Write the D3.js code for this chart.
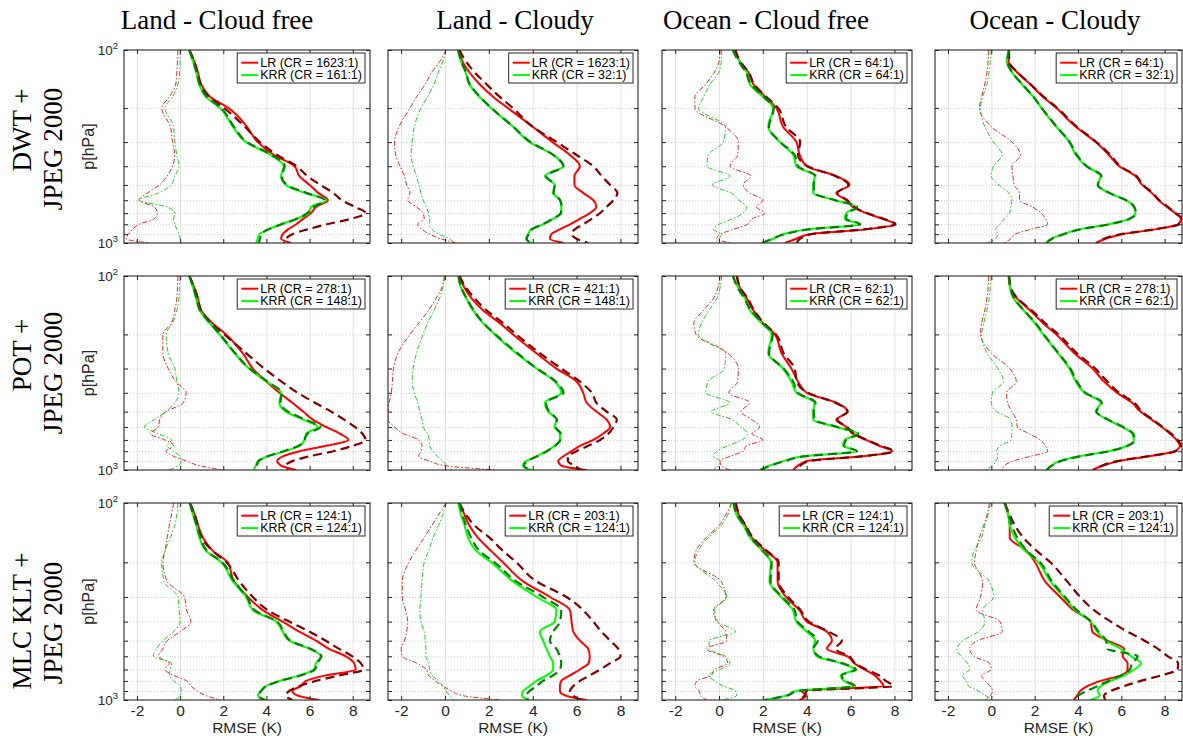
<!DOCTYPE html>
<html lang="en">
<head>
<meta charset="UTF-8">
<title>RMSE profiles - LR vs KRR</title>
<script src="https://d3js.org/d3.v7.min.js"></script>
<style>
  body { margin: 0; background: #fff; }
  .tick text { fill: #262626; font-family: "Liberation Sans", Arial, sans-serif; }
</style>
</head>
<body>
<div id="chart"></div>
<script>
// pressure levels (hPa) shared by every profile
const levels = [100, 115, 130, 150, 175, 200, 250, 300, 350, 400, 450, 500, 550, 600, 650, 700, 750, 800, 850, 900, 950, 1000];
const xTicks = [-2, 0, 2, 4, 6, 8];
const yTicks = [100, 200, 300, 400, 500, 600, 700, 800, 900, 1000];
const yGrid = [200, 300, 400, 500, 600, 700, 800, 900];

const colTitles = ["Land - Cloud free", "Land - Cloudy", "Ocean - Cloud free", "Ocean - Cloudy"];
const rowLabels = [["DWT +", "JPEG 2000"], ["POT +", "JPEG 2000"], ["MLC KLT +", "JPEG 2000"]];
const lrCR = [["1623", "1623", "64", "64"], ["278", "421", "62", "278"], ["124", "203", "124", "203"]];
const krrCR = [["161", "32", "64", "32"], ["148", "148", "62", "62"], ["124", "124", "124", "124"]];

// row 1: DWT + JPEG 2000
const lr11 = [0.43, 0.66, 0.82, 0.97, 1.4, 2.25, 3.1, 3.6, 4.35, 5.3, 5.53, 6.0, 6.4, 6.85, 6.3, 6.07, 5.7, 5.38, 5.0, 4.76, 4.68, 5.15];
const krr11 = [0.43, 0.6, 0.74, 0.88, 1.2, 1.85, 2.45, 3.05, 4.2, 4.8, 4.68, 4.9, 5.77, 6.77, 6.07, 5.97, 5.38, 4.68, 4.07, 3.68, 3.6, 3.52];
const lrRef11 = [0.43, 0.66, 0.8, 0.95, 1.35, 2.05, 3.0, 3.7, 4.5, 5.4, 5.9, 6.5, 7.1, 7.5, 8.1, 8.6, 7.9, 6.8, 5.9, 5.2, 4.9, 4.8];
const krrRef11 = [0.43, 0.62, 0.76, 0.9, 1.25, 1.9, 2.5, 3.1, 4.25, 4.85, 4.7, 4.95, 5.85, 6.7, 6.2, 5.9, 5.4, 4.7, 4.1, 3.75, 3.7, 3.65];
const lrBias11 = [-0.1, -0.12, -0.15, -0.2, -0.5, -0.85, -0.45, -0.35, -0.25, -0.35, -0.6, -0.95, -1.5, -1.9, -1.2, -1.05, -1.2, -1.9, -2.2, -2.4, -2.5, -1.4];
const krrBias11 = [0.0, 0.0, -0.02, -0.1, -0.35, -0.7, -0.3, -0.25, -0.15, -0.05, -0.25, -0.4, -1.0, -1.9, -0.6, -0.25, -0.3, -0.25, -0.15, -0.05, 0.0, 0.05];

const lr12 = [0.66, 0.8, 1.1, 1.57, 2.2, 2.87, 4.0, 4.9, 5.7, 6.15, 5.9, 5.9, 6.3, 6.76, 6.9, 6.6, 6.15, 5.7, 5.24, 4.85, 4.78, 5.4];
const krr12 = [0.58, 0.73, 0.93, 1.1, 1.57, 2.1, 3.1, 3.86, 4.93, 5.39, 4.55, 5.0, 4.93, 5.24, 5.3, 5.3, 4.93, 4.47, 3.94, 3.79, 3.7, 3.94];
const lrRef12 = [0.66, 0.96, 1.34, 1.88, 2.5, 3.1, 4.0, 5.1, 6.0, 6.76, 7.14, 7.53, 7.86, 7.68, 7.37, 7.07, 6.69, 6.3, 5.92, 5.77, 6.0, 6.53];
const krrRef12 = [0.6, 0.75, 0.95, 1.12, 1.6, 2.12, 3.12, 3.9, 4.95, 5.4, 4.6, 5.0, 4.95, 5.25, 5.32, 5.28, 4.9, 4.45, 3.95, 3.82, 3.72, 3.9];
const lrBias12 = [0.05, -0.25, -0.6, -0.9, -1.3, -1.6, -2.1, -2.3, -2.25, -2.05, -1.85, -1.75, -1.6, -1.7, -1.3, -1.0, -0.95, -1.25, -1.05, -0.7, -0.2, 0.5];
const krrBias12 = [0.05, -0.1, -0.3, -0.5, -0.8, -1.1, -1.4, -1.5, -1.55, -1.45, -1.3, -1.2, -1.1, -1.0, -0.85, -0.75, -0.7, -0.72, -0.6, -0.3, 0.2, 0.4];

const lr13 = [0.73, 0.95, 1.33, 1.56, 2.1, 2.62, 2.92, 3.53, 3.68, 4.0, 5.35, 5.95, 5.35, 5.8, 6.1, 6.7, 7.47, 8.0, 6.7, 4.14, 3.53, 3.0];
const krr13 = [0.65, 0.95, 1.26, 1.4, 2.0, 2.47, 2.24, 2.77, 3.38, 3.53, 4.36, 4.29, 4.29, 5.27, 6.26, 5.8, 5.73, 6.4, 4.0, 2.92, 2.47, 1.94];
const lrRef13 = [0.75, 0.97, 1.35, 1.6, 2.15, 2.7, 3.05, 3.7, 3.6, 4.05, 5.3, 5.9, 5.4, 5.85, 6.15, 6.75, 7.5, 8.05, 6.6, 4.2, 3.7, 3.55];
const krrRef13 = [0.63, 0.9, 1.22, 1.45, 2.05, 2.5, 2.28, 2.8, 3.45, 3.6, 4.4, 4.32, 4.35, 5.3, 6.3, 5.85, 5.8, 6.45, 4.1, 3.0, 2.45, 1.95];
const lrBias13 = [0.05, 0.0, -0.2, -0.6, -1.1, -1.1, 0.3, 0.88, 0.85, 0.5, 1.45, 1.1, 1.4, 2.0, 1.7, 2.1, 1.5, 1.3, 0.65, 0.05, -0.1, 0.55];
const krrBias13 = [0.12, 0.1, 0.0, -0.4, -0.7, -0.94, 0.3, 0.2, -0.5, -0.55, 0.5, -0.3, 0.55, 0.9, 1.25, 1.1, 0.6, 0.0, -0.25, 0.1, 0.0, -0.2];

const lr14 = [0.8, 0.8, 1.17, 1.78, 2.39, 3.0, 3.9, 4.82, 5.43, 5.9, 6.65, 6.96, 7.4, 7.72, 8.1, 8.48, 8.75, 8.63, 7.56, 6.04, 5.28, 4.82];
const krr14 = [0.8, 0.72, 0.94, 1.4, 1.93, 2.31, 3.0, 3.6, 3.9, 4.37, 5.05, 4.9, 5.43, 6.2, 6.58, 6.65, 6.35, 5.43, 4.06, 3.3, 2.77, 2.54];
const lrRef14 = [0.82, 0.82, 1.2, 1.8, 2.42, 3.05, 3.95, 4.85, 5.5, 5.95, 6.7, 7.0, 7.45, 7.75, 8.15, 8.5, 8.8, 8.65, 7.5, 6.0, 5.2, 4.9];
const krrRef14 = [0.82, 0.74, 0.96, 1.42, 1.95, 2.33, 3.02, 3.62, 3.95, 4.4, 5.08, 4.92, 5.45, 6.22, 6.6, 6.67, 6.37, 5.45, 4.1, 3.35, 2.8, 2.55];
const lrBias14 = [-0.12, -0.15, -0.2, -0.3, -0.45, -0.55, 0.0, 0.95, 1.35, 0.95, 1.0, 1.05, 1.3, 1.3, 1.9, 2.3, 2.5, 2.6, 1.8, 1.1, 0.9, 0.6];
const krrBias14 = [0.0, -0.05, -0.1, -0.2, -0.4, -0.5, -0.3, 0.1, 0.5, 0.1, 0.0, 0.35, 0.8, 0.95, 0.9, 0.85, 0.6, 0.4, 0.2, 0.3, 0.2, -0.2];

// row 2: POT + JPEG 2000
const lr21 = [0.43, 0.66, 0.82, 0.97, 1.5, 2.13, 2.9, 3.37, 4.0, 4.6, 5.2, 5.7, 6.15, 6.77, 7.4, 7.8, 6.77, 5.53, 4.76, 4.5, 4.68, 5.38];
const krr21 = [0.43, 0.6, 0.74, 0.9, 1.36, 1.82, 2.52, 3.2, 4.0, 4.68, 4.6, 4.9, 5.7, 6.38, 5.84, 5.77, 5.53, 4.84, 4.07, 3.6, 3.5, 3.4];
const lrRef21 = [0.43, 0.66, 0.82, 0.97, 1.45, 2.05, 3.06, 3.9, 4.7, 5.45, 6.25, 7.0, 7.6, 8.1, 8.45, 8.6, 8.0, 7.1, 6.0, 5.2, 4.9, 5.0];
const krrRef21 = [0.43, 0.62, 0.76, 0.92, 1.4, 1.85, 2.55, 3.22, 4.05, 4.7, 4.65, 5.0, 5.8, 6.5, 5.9, 5.75, 5.5, 4.8, 4.05, 3.65, 3.55, 3.5];
const lrBias21 = [-0.1, -0.12, -0.15, -0.25, -0.4, -0.8, -0.8, -0.55, -0.2, 0.28, 0.15, -0.65, -0.95, -1.0, -1.4, -0.7, -0.3, -0.65, -0.3, 0.3, 0.9, 2.0];
const krrBias21 = [0.0, -0.02, -0.05, -0.15, -0.35, -0.65, -0.55, -0.25, -0.15, -0.05, -0.25, -0.65, -1.2, -1.65, -1.0, -0.4, -0.6, -0.3, 0.0, 0.05, -0.1, -0.5];

const lr22 = [0.66, 0.89, 1.2, 1.73, 2.5, 3.1, 4.17, 5.08, 6.0, 6.3, 6.46, 6.9, 7.37, 7.53, 7.2, 6.76, 6.15, 5.77, 5.4, 5.16, 5.3, 6.46];
const krr22 = [0.6, 0.73, 0.96, 1.27, 1.73, 2.26, 3.25, 4.17, 5.0, 5.3, 4.55, 4.7, 5.08, 5.0, 5.24, 5.24, 5.0, 4.63, 4.17, 3.7, 3.55, 3.94];
const lrRef22 = [0.66, 0.96, 1.34, 1.88, 2.65, 3.25, 4.32, 5.3, 6.15, 6.7, 6.9, 7.37, 7.83, 7.68, 7.45, 7.07, 6.53, 6.0, 5.6, 5.6, 5.9, 6.2];
const krrRef22 = [0.62, 0.75, 0.98, 1.3, 1.76, 2.3, 3.3, 4.2, 5.05, 5.4, 4.6, 4.75, 5.1, 5.05, 5.28, 5.26, 5.02, 4.65, 4.2, 3.75, 3.6, 3.9];
const lrBias22 = [-0.03, -0.15, -0.4, -0.75, -1.2, -1.6, -2.15, -2.35, -2.4, -2.45, -2.55, -2.6, -2.6, -2.3, -1.9, -1.2, -1.05, -1.1, -1.2, -0.7, 0.0, 2.3];
const krrBias22 = [0.0, -0.1, -0.25, -0.5, -0.8, -1.0, -1.3, -1.45, -1.5, -1.4, -1.25, -1.15, -1.05, -1.0, -0.8, -0.72, -0.7, -0.55, -0.35, -0.1, 0.1, 0.3];

const lr23 = [0.8, 0.95, 1.26, 1.56, 2.0, 2.55, 2.85, 3.3, 3.6, 4.0, 5.35, 5.88, 5.35, 5.8, 6.1, 6.7, 7.3, 7.9, 6.56, 4.0, 3.6, 3.38];
const krr23 = [0.65, 0.88, 1.18, 1.4, 1.94, 2.4, 2.24, 2.92, 3.3, 3.53, 4.36, 4.29, 4.29, 5.35, 6.33, 5.73, 5.65, 6.26, 3.83, 2.92, 2.3, 1.86];
const lrRef23 = [0.82, 0.97, 1.3, 1.6, 2.05, 2.6, 2.95, 3.45, 3.55, 4.05, 5.3, 5.85, 5.4, 5.85, 6.15, 6.75, 7.35, 7.95, 6.5, 4.1, 3.7, 3.6];
const krrRef23 = [0.63, 0.85, 1.15, 1.45, 1.98, 2.45, 2.28, 2.95, 3.38, 3.6, 4.4, 4.32, 4.35, 5.4, 6.35, 5.8, 5.7, 6.3, 3.9, 3.0, 2.35, 1.9];
const lrBias23 = [0.05, -0.05, -0.25, -0.7, -1.15, -1.05, 0.4, 0.88, 0.85, 0.45, 1.4, 1.0, 1.5, 1.85, 1.5, 2.0, 1.25, 1.1, 0.5, 0.05, 0.1, 0.5];
const krrBias23 = [0.12, 0.05, -0.1, -0.45, -0.8, -0.95, 0.3, 0.25, -0.5, -0.6, 0.5, -0.35, 0.6, 1.0, 1.3, 1.05, 0.4, -0.1, -0.25, 0.05, -0.05, -0.25];

const lr24 = [0.8, 0.87, 1.17, 1.78, 2.39, 3.0, 3.83, 4.67, 5.2, 5.8, 6.5, 6.88, 7.4, 7.87, 8.25, 8.55, 8.7, 8.48, 7.26, 5.9, 5.13, 4.67];
const krr24 = [0.8, 0.87, 1.02, 1.48, 2.0, 2.39, 3.07, 3.6, 3.9, 4.3, 5.05, 4.82, 5.36, 6.04, 6.5, 6.58, 6.27, 5.43, 4.06, 3.15, 2.77, 2.54];
const lrRef24 = [0.82, 0.9, 1.2, 1.85, 2.48, 3.1, 3.95, 4.8, 5.35, 5.9, 6.6, 6.95, 7.45, 7.9, 8.3, 8.6, 8.75, 8.5, 7.2, 5.8, 5.1, 4.75];
const krrRef24 = [0.82, 0.88, 1.05, 1.5, 2.05, 2.42, 3.1, 3.65, 3.95, 4.35, 5.1, 4.85, 5.4, 6.08, 6.55, 6.62, 6.3, 5.45, 4.1, 3.2, 2.8, 2.55];
const lrBias24 = [-0.12, -0.15, -0.2, -0.3, -0.45, -0.5, 0.0, 0.85, 1.15, 0.7, 0.75, 0.95, 1.15, 1.2, 1.75, 2.25, 2.5, 2.6, 1.8, 1.0, 0.6, 0.5];
const krrBias24 = [0.0, -0.05, -0.1, -0.2, -0.35, -0.45, -0.2, 0.3, 0.56, 0.05, 0.0, 0.25, 0.9, 0.95, 0.95, 0.9, 0.4, 0.25, 0.3, 0.2, 0.05, -0.28];

// row 3: MLC KLT + JPEG 2000
const lr31 = [0.45, 0.68, 0.83, 1.06, 1.52, 2.2, 2.5, 3.14, 3.83, 4.75, 5.52, 6.3, 6.9, 7.68, 8.06, 8.14, 6.75, 5.83, 5.6, 5.2, 5.45, 6.45];
const krr31 = [0.45, 0.6, 0.75, 0.9, 1.2, 1.9, 2.44, 3.06, 3.37, 4.45, 4.75, 5.06, 6.0, 6.52, 6.3, 6.2, 5.52, 4.6, 3.98, 3.75, 3.6, 3.98];
const lrRef31 = [0.45, 0.68, 0.83, 1.0, 1.5, 2.15, 2.75, 3.37, 4.06, 5.06, 6.0, 6.75, 7.37, 7.98, 8.37, 8.5, 7.37, 6.3, 5.52, 5.06, 4.9, 5.2];
const krrRef31 = [0.45, 0.62, 0.77, 0.95, 1.25, 1.95, 2.5, 3.1, 3.45, 4.5, 4.8, 5.1, 6.05, 6.55, 6.35, 6.25, 5.6, 4.65, 4.0, 3.75, 3.62, 3.9];
const lrBias31 = [-0.3, -0.4, -0.5, -0.6, -0.7, -0.8, -0.6, 0.2, 0.3, 0.5, 0.0, -0.6, -0.8, -1.0, -0.5, -0.7, -0.3, 0.3, 0.5, 0.8, 1.2, 1.85];
const krrBias31 = [-0.1, -0.15, -0.25, -0.45, -0.7, -0.85, -0.75, -0.1, -0.05, 0.0, -0.3, -0.8, -1.1, -1.25, -0.4, -0.45, -0.5, -0.3, 0.0, 0.05, 0.0, -0.25];

const lr32 = [0.66, 0.89, 1.11, 1.5, 2.1, 2.64, 3.56, 4.78, 5.7, 5.77, 5.85, 6.15, 6.53, 6.6, 6.55, 6.15, 5.7, 5.3, 5.24, 5.24, 5.5, 6.46];
const krr32 = [0.6, 0.73, 0.89, 1.05, 1.42, 2.1, 3.1, 4.17, 5.08, 5.0, 4.32, 4.47, 4.63, 4.78, 4.93, 4.93, 4.63, 4.17, 3.86, 3.56, 3.5, 3.8];
const lrRef32 = [0.66, 0.96, 1.34, 2.03, 2.64, 3.25, 4.17, 5.54, 6.3, 6.76, 7.14, 7.53, 7.9, 8.0, 7.53, 7.07, 6.6, 6.15, 5.85, 5.7, 5.85, 6.15];
const krrRef32 = [0.66, 0.8, 0.96, 1.19, 1.57, 2.26, 3.25, 4.47, 5.3, 5.24, 4.93, 4.78, 5.08, 5.24, 5.3, 5.24, 4.93, 4.47, 4.17, 3.86, 3.7, 3.8];
const lrBias32 = [0.05, -0.3, -0.6, -0.95, -1.35, -1.65, -1.95, -1.95, -1.8, -1.7, -1.75, -1.85, -2.0, -1.95, -1.3, -0.85, -0.75, -0.45, -0.1, 0.3, 0.8, 2.5];
const krrBias32 = [0.05, -0.1, -0.3, -0.55, -0.75, -0.95, -1.05, -1.1, -1.15, -1.1, -0.95, -0.9, -0.87, -0.87, -0.75, -0.7, -0.6, -0.3, -0.1, 0.05, 0.2, 0.4];

const lr33 = [0.75, 0.9, 1.2, 1.5, 2.13, 2.67, 2.67, 3.05, 3.67, 4.0, 4.92, 5.15, 4.92, 5.85, 6.16, 6.63, 7.1, 7.35, 7.5, 3.77, 3.99, 3.67];
const krr33 = [0.65, 0.8, 1.12, 1.42, 1.97, 2.36, 2.3, 2.83, 3.37, 3.52, 4.0, 4.38, 4.3, 4.45, 5.55, 6.16, 5.55, 5.7, 6.16, 3.5, 3.05, 2.05];
const lrRef33 = [0.77, 0.93, 1.22, 1.55, 2.18, 2.72, 2.72, 3.15, 3.72, 4.1, 5.0, 5.6, 5.3, 5.95, 6.2, 6.7, 7.3, 7.6, 7.95, 4.0, 3.9, 3.65];
const krrRef33 = [0.67, 0.82, 1.15, 1.45, 2.0, 2.4, 2.35, 2.88, 3.45, 3.58, 4.1, 4.5, 4.3, 4.55, 5.6, 6.25, 5.6, 5.75, 6.2, 3.6, 3.1, 2.1];
const lrBias33 = [0.57, 0.3, 0.0, -0.6, -1.05, -1.15, 0.1, 0.3, -0.25, -0.1, 0.3, 0.35, -0.6, 0.2, 0.4, -0.2, -0.35, -1.0, -1.1, -0.9, -0.85, -0.55];
const krrBias33 = [0.57, 0.4, 0.1, -0.5, -0.95, -1.1, -0.15, 0.35, -0.2, -0.05, 0.75, -0.45, -0.45, 0.3, 0.5, 0.05, -0.5, -0.2, 0.2, 0.75, 0.8, 0.1];

const lr34 = [0.62, 0.78, 0.85, 0.85, 1.63, 2.02, 2.48, 3.18, 3.8, 4.58, 4.66, 5.36, 6.13, 6.06, 6.29, 6.29, 5.98, 5.05, 4.43, 4.1, 3.96, 3.8];
const krr34 = [0.62, 0.78, 0.85, 1.09, 1.55, 2.17, 2.72, 3.34, 3.88, 4.58, 4.89, 5.28, 5.98, 6.44, 6.9, 6.6, 6.13, 5.51, 5.05, 4.9, 5.0, 4.58];
const lrRef34 = [0.62, 0.85, 1.09, 1.48, 2.1, 2.72, 3.5, 4.1, 4.74, 5.51, 6.29, 7.07, 7.69, 8.15, 8.62, 8.6, 7.84, 6.9, 6.13, 5.51, 5.2, 5.25];
const krrRef34 = [0.62, 0.8, 0.95, 1.2, 1.65, 2.25, 2.8, 3.4, 3.95, 4.6, 4.95, 5.3, 5.35, 6.75, 6.5, 6.4, 6.0, 5.4, 4.9, 4.4, 4.0, 3.85];
const lrBias34 = [-0.08, -0.2, -0.35, -0.55, -0.7, -0.78, -0.4, -0.5, -0.7, 0.4, 0.5, -0.65, -1.0, -0.8, -0.1, 0.0, -0.45, -0.3, -0.05, 0.05, -0.05, -0.3];
const krrBias34 = [-0.05, -0.15, -0.3, -0.45, -0.8, -0.9, -0.1, 0.1, -0.4, -0.3, -0.6, -1.3, -1.6, -1.4, -1.1, -1.0, -1.35, -1.15, -1.05, -0.6, -0.25, 0.05];

const panels = [
  [
    { lr: lr11, krr: krr11, lrRef: lrRef11, krrRef: krrRef11, lrBias: lrBias11, krrBias: krrBias11 },
    { lr: lr12, krr: krr12, lrRef: lrRef12, krrRef: krrRef12, lrBias: lrBias12, krrBias: krrBias12 },
    { lr: lr13, krr: krr13, lrRef: lrRef13, krrRef: krrRef13, lrBias: lrBias13, krrBias: krrBias13 },
    { lr: lr14, krr: krr14, lrRef: lrRef14, krrRef: krrRef14, lrBias: lrBias14, krrBias: krrBias14 }
  ],
  [
    { lr: lr21, krr: krr21, lrRef: lrRef21, krrRef: krrRef21, lrBias: lrBias21, krrBias: krrBias21 },
    { lr: lr22, krr: krr22, lrRef: lrRef22, krrRef: krrRef22, lrBias: lrBias22, krrBias: krrBias22 },
    { lr: lr23, krr: krr23, lrRef: lrRef23, krrRef: krrRef23, lrBias: lrBias23, krrBias: krrBias23 },
    { lr: lr24, krr: krr24, lrRef: lrRef24, krrRef: krrRef24, lrBias: lrBias24, krrBias: krrBias24 }
  ],
  [
    { lr: lr31, krr: krr31, lrRef: lrRef31, krrRef: krrRef31, lrBias: lrBias31, krrBias: krrBias31 },
    { lr: lr32, krr: krr32, lrRef: lrRef32, krrRef: krrRef32, lrBias: lrBias32, krrBias: krrBias32 },
    { lr: lr33, krr: krr33, lrRef: lrRef33, krrRef: krrRef33, lrBias: lrBias33, krrBias: krrBias33 },
    { lr: lr34, krr: krr34, lrRef: lrRef34, krrRef: krrRef34, lrBias: lrBias34, krrBias: krrBias34 }
  ]
];

// layout
const colX = [124, 388, 662, 935];
const colW = [246, 250, 250, 247];
const rowY = [50, 276, 503];
const rowH = [193, 194, 197];
const titleX = [217, 515, 766, 1055];
const rowLabelY = [[130, 149], [355, 373], [621, 623]];

const sans = '"Liberation Sans", Arial, Helvetica, sans-serif';
const serif = '"Liberation Serif", "Times New Roman", Times, serif';

const svg = d3.select("#chart")
  .append("svg")
  .attr("width", 1183)
  .attr("height", 736)
  .style("background", "#fff");

// column titles
svg.selectAll(".col-title")
  .data(colTitles)
  .enter()
  .append("text")
  .attr("class", "col-title")
  .attr("x", (d, i) => titleX[i])
  .attr("y", 29)
  .attr("text-anchor", "middle")
  .style("font-family", serif)
  .style("font-size", "27px")
  .attr("fill", "#000")
  .text(d => d);

// row labels (rotated, two lines)
rowLabels.forEach((lines, r) => {
  [31, 62].forEach((bx, k) => {
    svg.append("text")
      .attr("transform", `translate(${bx},${rowLabelY[r][k]}) rotate(-90)`)
      .attr("text-anchor", "middle")
      .style("font-family", serif)
      .style("font-size", "27px")
      .attr("fill", "#000")
      .text(lines[k]);
  });
});

let clipId = 0;

function drawPanel(pd, r, c) {
  const w = colW[c], h = rowH[r];
  const g = svg.append("g").attr("transform", `translate(${colX[c]},${rowY[r]})`);

  const x = d3.scaleLinear().domain([-2.6, 8.8]).range([0, w]);
  const y = d3.scaleLog().domain([100, 1000]).range([0, h]);

  // vertical grid
  g.append("g")
    .call(d3.axisBottom(x).tickValues(xTicks).tickSize(h).tickFormat(""))
    .call(s => s.select(".domain").remove())
    .selectAll("line")
    .attr("stroke", "#e2e2e2")
    .attr("stroke-width", 1);

  // horizontal dotted grid on log minor ticks
  g.append("g")
    .call(d3.axisRight(y).tickValues(yGrid).tickSize(w).tickFormat(""))
    .call(s => s.select(".domain").remove())
    .selectAll("line")
    .attr("stroke", "#cfcfcf")
    .attr("stroke-width", 1)
    .attr("stroke-dasharray", "1,2");

  const id = "clip" + (clipId++);
  g.append("clipPath").attr("id", id)
    .append("rect").attr("width", w).attr("height", h);
  const plot = g.append("g").attr("clip-path", `url(#${id})`);

  const line = d3.line()
    .x(d => x(d))
    .y((d, i) => y(levels[i]))
    .curve(d3.curveMonotoneY);

  const series = [
    { v: pd.lrBias, color: "#e01010", width: 0.9, dash: "5,2,1.5,2" },
    { v: pd.krrBias, color: "#10c010", width: 0.9, dash: "5,2,1.5,2" },
    { v: pd.lr, color: "#ff0000", width: 2, dash: null },
    { v: pd.krr, color: "#00ff00", width: 2, dash: null },
    { v: pd.lrRef, color: "#800000", width: 2.2, dash: "9,5" },
    { v: pd.krrRef, color: "#007f00", width: 2.2, dash: "9,5" }
  ];

  plot.selectAll("path")
    .data(series)
    .enter()
    .append("path")
    .attr("d", d => line(d.v))
    .attr("fill", "none")
    .attr("stroke", d => d.color)
    .attr("stroke-width", d => d.width)
    .attr("stroke-dasharray", d => d.dash)
    .attr("stroke-linejoin", "round");

  // ticks pointing inward on every side
  const bottom = g.append("g")
    .attr("transform", `translate(0,${h})`)
    .call(d3.axisBottom(x).tickValues(xTicks).tickSizeInner(-4).tickSizeOuter(0).tickPadding(5)
      .tickFormat(r === 2 ? d => String(d) : ""));
  bottom.select(".domain").remove();
  bottom.selectAll("line").attr("stroke", "#262626");
  bottom.selectAll("text").style("font-size", "15.5px");

  const top = g.append("g")
    .call(d3.axisTop(x).tickValues(xTicks).tickSizeInner(-4).tickSizeOuter(0).tickFormat(""));
  top.select(".domain").remove();
  top.selectAll("line").attr("stroke", "#262626");

  const left = g.append("g")
    .call(d3.axisLeft(y).tickValues(yTicks).tickSizeInner(-4).tickSizeOuter(0).tickFormat(""));
  left.select(".domain").remove();
  left.selectAll("line").attr("stroke", "#262626");

  const right = g.append("g")
    .attr("transform", `translate(${w},0)`)
    .call(d3.axisRight(y).tickValues(yTicks).tickSizeInner(-4).tickSizeOuter(0).tickFormat(""));
  right.select(".domain").remove();
  right.selectAll("line").attr("stroke", "#262626");

  // frame
  g.append("rect")
    .attr("width", w).attr("height", h)
    .attr("fill", "none")
    .attr("stroke", "#262626")
    .attr("stroke-width", 1.1);

  // y labels on the first column
  if (c === 0) {
    [[100, "2"], [1000, "3"]].forEach(([p, e]) => {
      const t = g.append("text")
        .attr("x", -6)
        .attr("y", y(p) + 5)
        .attr("text-anchor", "end")
        .attr("fill", "#262626")
        .style("font-family", sans)
        .style("font-size", "13.5px");
      t.append("tspan").text("10");
      t.append("tspan").attr("dy", -6).style("font-size", "9.5px").text(e);
    });
    g.append("text")
      .attr("transform", `translate(-30,${h / 2}) rotate(-90)`)
      .attr("text-anchor", "middle")
      .attr("fill", "#262626")
      .style("font-family", sans)
      .style("font-size", "16px")
      .text("p[hPa]");
  }

  if (r === 2) {
    g.append("text")
      .attr("x", w / 2)
      .attr("y", h + 33)
      .attr("text-anchor", "middle")
      .attr("fill", "#262626")
      .style("font-family", sans)
      .style("font-size", "15.5px")
      .text("RMSE (K)");
  }

  // legend
  const leg = g.append("g");
  const box = leg.append("rect");
  const entries = [
    { label: `LR (CR = ${lrCR[r][c]}:1)`, color: "#ff0000" },
    { label: `KRR (CR = ${krrCR[r][c]}:1)`, color: "#00ff00" }
  ];
  let maxW = 0;
  const texts = entries.map((e, k) => {
    const t = leg.append("text")
      .attr("y", 3 + 13.7 + k * 12.6)
      .attr("fill", "#000")
      .style("font-family", sans)
      .style("font-size", "12.5px")
      .text(e.label);
    maxW = Math.max(maxW, t.node().getComputedTextLength());
    return t;
  });
  const bw = 23 + maxW + 3;
  const bx = w - 5 - bw;
  box.attr("x", bx).attr("y", 3).attr("width", bw).attr("height", 30)
    .attr("fill", "#fff").attr("stroke", "#262626").attr("stroke-width", 1);
  texts.forEach((t, k) => t.attr("x", bx + 23));
  entries.forEach((e, k) => {
    leg.append("line")
      .attr("x1", bx + 4).attr("x2", bx + 21)
      .attr("y1", 3 + 9.7 + k * 12.4).attr("y2", 3 + 9.7 + k * 12.4)
      .attr("stroke", e.color)
      .attr("stroke-width", 2);
  });
}

panels.forEach((row, r) => row.forEach((pd, c) => drawPanel(pd, r, c)));
</script>
</body>
</html>
